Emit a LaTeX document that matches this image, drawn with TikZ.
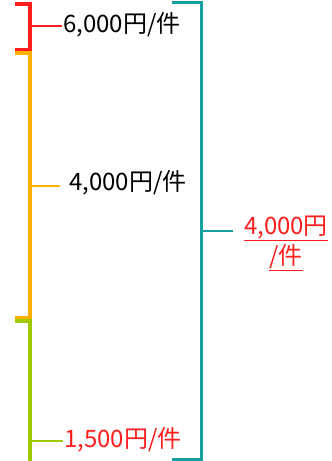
\documentclass[tikz,border=0pt]{standalone}
\usepackage{fontspec}
\setmainfont{Noto Sans CJK JP}
\definecolor{brred}{RGB}{255,30,30}
\definecolor{brorange}{RGB}{255,176,0}
\definecolor{brgreen}{RGB}{160,200,0}
\definecolor{brteal}{RGB}{20,160,160}
\tikzset{
  bracket/.style={line width=3.5pt},
  tick/.style={line width=2pt},
  price/.style={font=\fontsize{24}{30}\selectfont, inner sep=1pt, anchor=west}
}
\begin{document}
\begin{tikzpicture}[x=1pt,y=-1pt]
      \useasboundingbox (0,0) rectangle (332,461);
      % red bracket
      \draw[bracket,brred] (15,4) -- (30,4) -- (30,50) -- (15,50);
      \coordinate (r) at (30,26);
      \node[price] (rl) at (62,25) {6,000円/件};
      \draw[tick,brred] (r) -- (r -| rl.west);
      % orange bracket
      \draw[bracket,brorange] (15,53) -- (30,53) -- (30,318) -- (15,318);
      \coordinate (o) at (30,186);
      \node[price] (ol) at (68,183) {4,000円/件};
      \draw[tick,brorange] (o) -- ([xshift=-8pt]o -| ol.west);
      % green bracket
      \draw[bracket,brgreen] (15,321) -- (30,321) -- (30,461);
      \coordinate (g) at (30,441);
      \node[price,brred] (gl) at (63,440) {1,500円/件};
      \draw[tick,brgreen] (g) -- (g -| gl.west);
      % teal bracket
      \draw[bracket,brteal,line width=3pt] (172,2) -- (201,2) -- (201,459) -- (172,459);
      \coordinate (t) at (201,231);
      \node[price,brred,align=center,anchor=center] (tl) at (286,243)
        {\underline{4,000円}\\\underline{/件}};
      \draw[tick,brteal] (t) -- ([xshift=-10pt]t -| tl.west);
\end{tikzpicture}
\end{document}
